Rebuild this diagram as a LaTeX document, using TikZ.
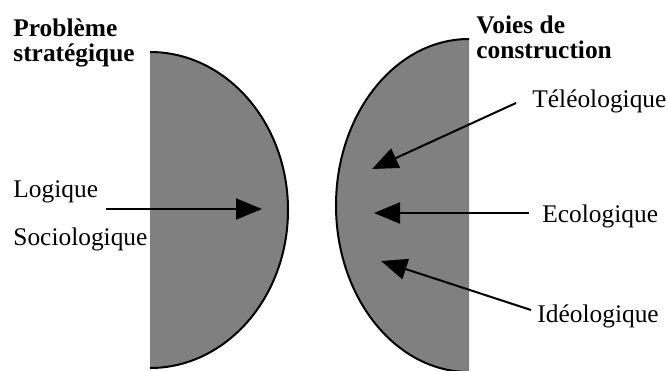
\documentclass[tikz,border=0pt]{standalone}
\usepackage{fontspec}
\setmainfont{Liberation Serif}
\usetikzlibrary{arrows.meta}

\begin{document}
\begin{tikzpicture}[x=0.5pt,y=0.5pt,
  wordbox/.style={anchor=base west,inner sep=0pt,font=\fontsize{12.7}{12.5}\selectfont},
  heading/.style={wordbox,align=left,font=\fontsize{12.7}{12.5}\selectfont\bfseries},
  halfdisc/.style={fill=black!50},
  rim/.style={line width=1pt},
  pointer/.style={line width=1pt,-{Triangle[length=13pt,width=10.5pt]}},
]
  \useasboundingbox (0,0) rectangle (668,370);
  \clip (0,0) rectangle (668,370);

  % the two half discs
  \fill[halfdisc] (150,318) arc[start angle=90,end angle=-90,x radius=69pt,y radius=79pt] -- cycle;
  \draw[rim] (150,318) arc[start angle=90,end angle=-90,x radius=69pt,y radius=79pt];
  \fill[halfdisc] (469,331) arc[start angle=90,end angle=270,x radius=66.5pt,y radius=83.25pt] -- cycle;
  \draw[rim] (469,331) arc[start angle=90,end angle=270,x radius=66.5pt,y radius=83.25pt];

  % base anchor = last line
  \node[heading] (probleme) at (13,308) {Problème\\stratégique};
  \node[heading] (voies) at (476,311) {Voies de\\construction};

  \node[wordbox] (logique) at (13,173) {Logique};
  \node[wordbox] (socio) at (13,125) {Sociologique};
  \node[wordbox] (teleo) at (532,263) {Téléologique};
  \node[wordbox] (eco) at (542,148) {Ecologique};
  \node[wordbox] (ideo) at (537,48) {Idéologique};

  \coordinate (logique-in) at (262,161);
  \coordinate (teleo-in) at (372,201);
  \coordinate (eco-in) at (374,157);
  \coordinate (ideo-in) at (381,109);

  \draw[pointer] ([yshift=-6pt]logique.base west -| 106,0) -- (logique-in);
  \draw[pointer] ([xshift=-8pt,yshift=2pt]teleo.base west) -- (teleo-in);
  \draw[pointer] ([xshift=-6.5pt,yshift=4.5pt]eco.base west) -- (eco-in);
  \draw[pointer] ([xshift=-3pt,yshift=6pt]ideo.base west) -- (ideo-in);
\end{tikzpicture}
\end{document}
